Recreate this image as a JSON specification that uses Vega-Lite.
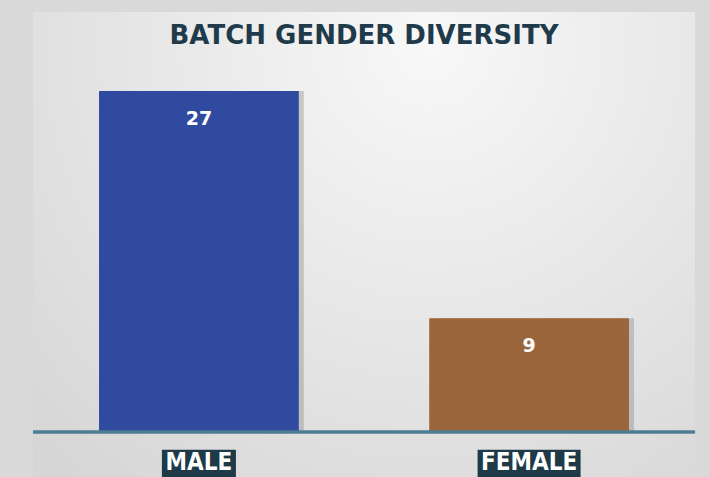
{
  "$schema": "https://vega.github.io/schema/vega-lite/v6.json",
  "width": 662,
  "height": 465,
  "autosize": "none",
  "padding": {"left": 33, "top": 12, "right": 15, "bottom": 0},
  "background": "#d9d9d9",
  "title": {
    "text": "BATCH GENDER DIVERSITY",
    "font": "DejaVu Sans",
    "fontSize": 26,
    "fontWeight": "bold",
    "color": "#1f3a4a",
    "anchor": "middle",
    "offset": -37
  },
  "config": {
    "view": {
      "stroke": null,
      "fill": {
        "gradient": "radial",
        "x1": 0.6, "y1": 0.2, "r1": 0,
        "x2": 0.6, "y2": 0.2, "r2": 0.85,
        "stops": [
          {"offset": 0, "color": "#f8f8f8"},
          {"offset": 1, "color": "#d6d6d6"}
        ]
      }
    }
  },
  "data": {
    "values": [
      {"gender": "MALE", "count": 27},
      {"gender": "FEMALE", "count": 9}
    ]
  },
  "layer": [
    {
      "mark": {"type": "bar", "color": "#7a7a7a", "opacity": 0.35, "xOffset": 5},
      "encoding": {
        "x": {
          "field": "gender",
          "type": "nominal",
          "sort": ["MALE", "FEMALE"],
          "scale": {"paddingInner": 0.395, "paddingOuter": 0.2},
          "axis": null
        },
        "y": {"field": "count", "type": "quantitative", "scale": {"domain": [-3.56, 33.25], "nice": false, "zero": false}, "axis": null},
        "y2": {"datum": 0}
      }
    },
    {
      "mark": {"type": "bar"},
      "encoding": {
        "x": {"field": "gender", "type": "nominal", "sort": ["MALE", "FEMALE"]},
        "y": {"field": "count", "type": "quantitative"},
        "y2": {"datum": 0},
        "color": {
          "field": "gender",
          "type": "nominal",
          "scale": {"domain": ["MALE", "FEMALE"], "range": ["#2f4a9e", "#9a653a"]},
          "legend": null
        }
      }
    },
    {
      "mark": {"type": "rule", "color": "#4d7d92", "strokeWidth": 3},
      "encoding": {"y": {"datum": 0}}
    },
    {
      "mark": {"type": "text", "color": "white", "font": "DejaVu Sans", "fontWeight": "bold", "fontSize": 19, "baseline": "middle", "dy": 28},
      "encoding": {
        "x": {"field": "gender", "type": "nominal", "sort": ["MALE", "FEMALE"]},
        "y": {"field": "count", "type": "quantitative"},
        "text": {"field": "count", "type": "quantitative"}
      }
    },
    {
      "mark": {"type": "bar", "color": "#1e3a46"},
      "encoding": {
        "x": {"field": "gender", "type": "nominal", "sort": ["MALE", "FEMALE"]},
        "y": {"datum": -1.4},
        "y2": {"datum": -3.56},
        "size": {
          "field": "gender",
          "type": "ordinal",
          "scale": {"domain": ["MALE", "FEMALE"], "range": [74, 103]},
          "legend": null
        }
      }
    },
    {
      "mark": {"type": "text", "color": "white", "font": "DejaVu Sans Condensed", "fontWeight": "bold", "fontSize": 24, "baseline": "middle"},
      "encoding": {
        "x": {"field": "gender", "type": "nominal", "sort": ["MALE", "FEMALE"]},
        "y": {"datum": -2.45},
        "text": {"field": "gender", "type": "nominal"}
      }
    }
  ]
}
